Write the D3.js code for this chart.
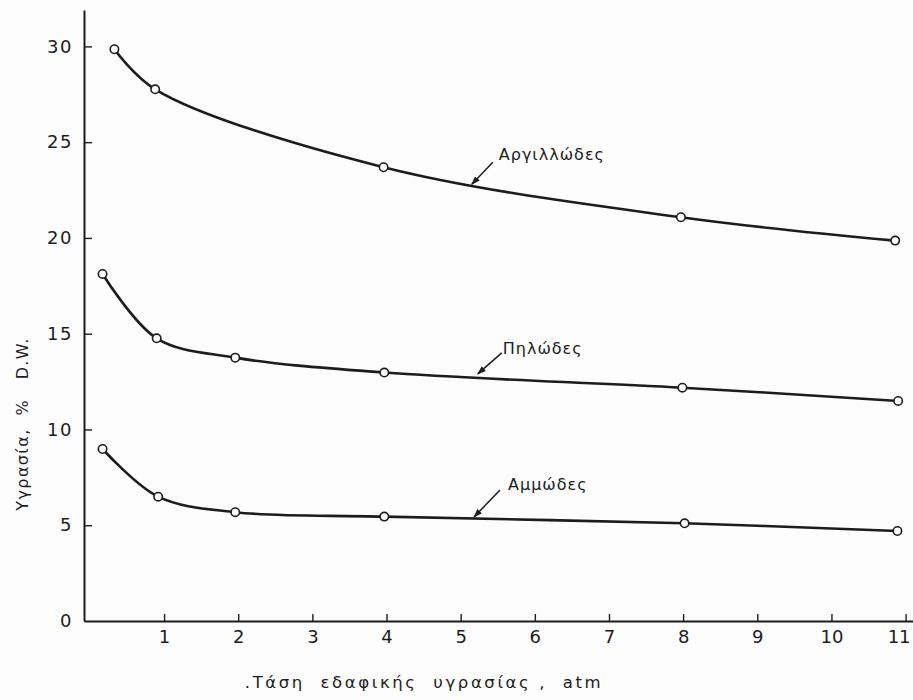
<!DOCTYPE html>
<html>
<head>
<meta charset="utf-8">
<script src="https://cdn.jsdelivr.net/npm/d3@7/dist/d3.min.js"></script>
<style>
  html, body { margin: 0; padding: 0; background: #fdfdfd; }
  svg { display: block; }
  text { font-family: "DejaVu Sans", sans-serif; fill: #1c1c1c; }
</style>
</head>
<body>
<svg id="chart" width="913" height="700"></svg>
<script>
// Soil moisture (% dry weight) against soil moisture tension (atm)
const xTicks = [1, 2, 3, 4, 5, 6, 7, 8, 9, 10, 11];
const yTicks = [0, 5, 10, 15, 20, 25, 30];

const clayX = [0.33, 0.88, 3.96, 7.97, 10.86];
const clayY = [29.85, 27.76, 23.69, 21.08, 19.86];

const loamX = [0.17, 0.90, 1.96, 3.97, 7.99, 10.90];
const loamY = [18.12, 14.76, 13.75, 12.97, 12.18, 11.49];

const sandX = [0.17, 0.92, 1.96, 3.97, 8.02, 10.89];
const sandY = [8.98, 6.49, 5.68, 5.45, 5.10, 4.70];

const seriesNames = ["Αργιλλώδες", "Πηλώδες", "Αμμώδες"];
// where each label's arrow touches its curve (data units)
const arrowTipX = [5.15, 5.23, 5.18];
const arrowTipY = [22.8, 12.9, 5.43];

const xTitle = ".Τάση  εδαφικής  υγρασίας ,  atm";
const yTitle = "Υγρασία,  %   D.W.";

const svg = d3.select("#chart");

const x = d3.scaleLinear().domain([-0.08, 11.1]).range([84, 913]);
const y = d3.scaleLinear().domain([0, 31.9]).range([621, 10]);

const ink = "#1c1c1c";

// axes
const xAxis = d3.axisBottom(x).tickValues(xTicks).tickSizeInner(-7).tickSizeOuter(0).tickPadding(9);
const yAxis = d3.axisLeft(y).tickValues(yTicks).tickSizeInner(-8).tickSizeOuter(0).tickPadding(11);

const gx = svg.append("g").attr("transform", `translate(0,${y(0)})`).call(xAxis);
const gy = svg.append("g").attr("transform", `translate(${x(-0.08)},0)`).call(yAxis);

[gx, gy].forEach(g => {
  g.select(".domain").attr("stroke", ink).attr("stroke-width", 2);
  g.selectAll(".tick line").attr("stroke", ink).attr("stroke-width", 1.4);
  g.selectAll(".tick text").attr("font-size", 18).attr("fill", ink)
    .style("font-family", "'DejaVu Sans', sans-serif");
});
gy.selectAll(".tick text").attr("letter-spacing", 1.5);
gy.selectAll(".tick").filter(d => d === 0).select("line").remove();
// keep the last x label inside the page edge
gx.selectAll(".tick").filter(d => d === 11).select("text").attr("dx", -7);

// curves
const series = [
  { xs: clayX, ys: clayY },
  { xs: loamX, ys: loamY },
  { xs: sandX, ys: sandY }
];

const line = d3.line()
  .x(d => x(d[0]))
  .y(d => y(d[1]))
  .curve(d3.curveCatmullRom.alpha(0.5));

series.forEach(s => {
  const pts = s.xs.map((v, i) => [v, s.ys[i]]);
  svg.append("path")
    .attr("d", line(pts))
    .attr("fill", "none")
    .attr("stroke", ink)
    .attr("stroke-width", 2.6)
    .attr("stroke-linecap", "round");
  svg.append("g").selectAll("circle")
    .data(pts)
    .join("circle")
    .attr("cx", d => x(d[0]))
    .attr("cy", d => y(d[1]))
    .attr("r", 4.2)
    .attr("fill", "#fdfdfd")
    .attr("stroke", ink)
    .attr("stroke-width", 1.6);
});

// labels with arrows
const defs = svg.append("defs");
defs.append("marker")
  .attr("id", "head")
  .attr("viewBox", "0 0 10 10")
  .attr("refX", 9).attr("refY", 5)
  .attr("markerWidth", 9).attr("markerHeight", 9)
  .attr("markerUnits", "userSpaceOnUse")
  .attr("orient", "auto")
  .append("path")
  .attr("d", "M0,1.5 L10,5 L0,8.5 Z")
  .attr("fill", ink);

// arrow run and label offset from the tip, in pixels
const leader = [
  { ax: 21, ay: -22, lx: 27, ly: -24 },
  { ax: 24, ay: -21, lx: 25, ly: -20 },
  { ax: 26, ay: -27, lx: 34, ly: -27 }
];

seriesNames.forEach((name, i) => {
  const tx = x(arrowTipX[i]);
  const ty = y(arrowTipY[i]);
  const o = leader[i];
  svg.append("line")
    .attr("x1", tx + o.ax).attr("y1", ty + o.ay)
    .attr("x2", tx).attr("y2", ty)
    .attr("stroke", ink)
    .attr("stroke-width", 1.5)
    .attr("marker-end", "url(#head)");
  svg.append("text")
    .attr("x", tx + o.lx)
    .attr("y", ty + o.ly)
    .attr("font-size", 16)
    .attr("letter-spacing", 1)
    .text(name);
});

// axis titles
svg.append("text")
  .attr("x", 424)
  .attr("y", 688)
  .attr("text-anchor", "middle")
  .attr("font-size", 16.5)
  .attr("letter-spacing", 2.6)
  .style("white-space", "pre")
  .text(xTitle);

svg.append("text")
  .attr("transform", "translate(28,424) rotate(-90)")
  .attr("text-anchor", "middle")
  .attr("font-size", 16)
  .attr("letter-spacing", 1.4)
  .style("white-space", "pre")
  .text(yTitle);
</script>
</body>
</html>
